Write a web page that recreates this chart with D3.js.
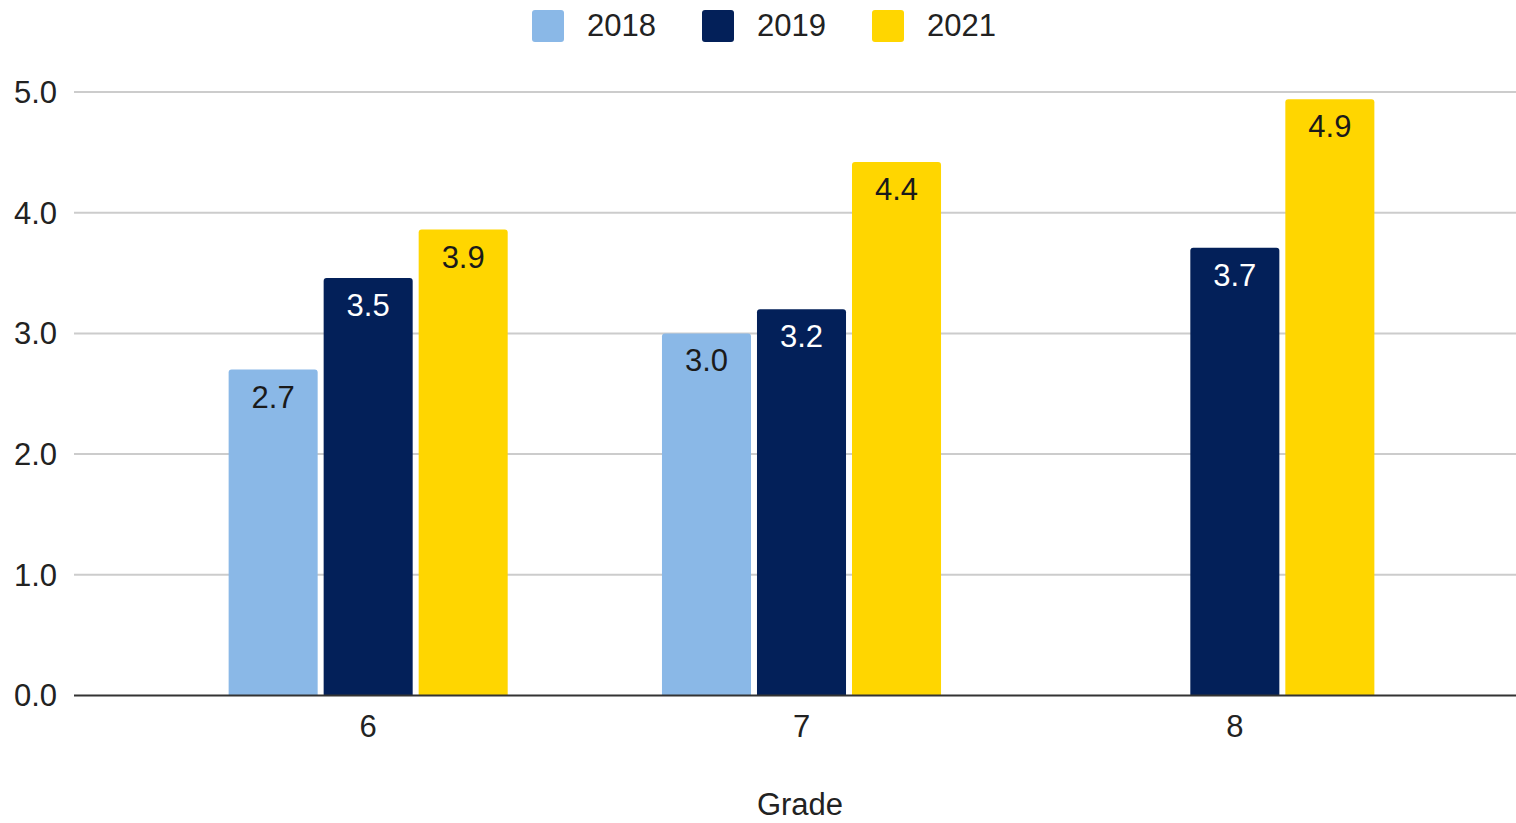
<!DOCTYPE html>
<html>
<head>
<meta charset="utf-8">
<script src="https://cdn.jsdelivr.net/npm/d3@7"></script>
<style>
  body { margin: 0; background: #fff; }
  svg text { font-family: "Liberation Sans", Arial, sans-serif; }
</style>
</head>
<body>
<svg></svg>
<script>
// chart data
var grades = ["6", "7", "8"];
var years = ["2018", "2019", "2021"];
var values2018 = [2.7, 3.0, null];
var values2019 = [3.46, 3.2, 3.71];
var values2021 = [3.86, 4.42, 4.94];
var yTicks = [0, 1, 2, 3, 4, 5];
var colors = ["#8ab8e7", "#032059", "#ffd600"];
var labelColors = ["#1a1a1a", "#ffffff", "#1a1a1a"];

var width = 1516, height = 823;
var fs = 31;
var svg = d3.select("svg").attr("width", width).attr("height", height);

var seriesValues = [values2018, values2019, values2021];

// scales
var y = d3.scaleLinear().domain([0, 5]).range([695.5, 92]);
var x0 = d3.scaleBand().domain(grades).range([151.5, 1451.5])
  .paddingInner(0.356).paddingOuter(0.178);
var x1 = d3.scaleBand().domain(years).range([0, x0.bandwidth()])
  .paddingInner(0.063).paddingOuter(0);

// gridlines
svg.append("g")
  .selectAll("line")
  .data(yTicks.filter(function(d){ return d > 0; }))
  .enter().append("line")
  .attr("x1", 74).attr("x2", width)
  .attr("y1", function(d){ return y(d); })
  .attr("y2", function(d){ return y(d); })
  .attr("stroke", "#cccccc")
  .attr("stroke-width", 2);

// y tick labels
svg.append("g")
  .selectAll("text")
  .data(yTicks)
  .enter().append("text")
  .attr("x", 57)
  .attr("y", function(d){ return y(d); })
  .attr("dy", "0.35em")
  .attr("text-anchor", "end")
  .attr("font-size", fs)
  .attr("fill", "#222")
  .text(function(d){ return d3.format(".1f")(d); });

// bars, flattened into one list
var bars = [];
grades.forEach(function(g, gi){
  years.forEach(function(yr, si){
    var v = seriesValues[si][gi];
    if (v !== null) bars.push({grade: g, year: yr, si: si, value: v});
  });
});

function barPath(d){
  var bx = x0(d.grade) + x1(d.year), bw = x1.bandwidth();
  var top = y(d.value), bottom = y(0), r = 3;
  return "M" + bx + "," + bottom +
    "V" + (top + r) +
    "Q" + bx + "," + top + " " + (bx + r) + "," + top +
    "H" + (bx + bw - r) +
    "Q" + (bx + bw) + "," + top + " " + (bx + bw) + "," + (top + r) +
    "V" + bottom + "Z";
}

svg.append("g")
  .selectAll("path")
  .data(bars)
  .enter().append("path")
  .attr("d", barPath)
  .attr("fill", function(d){ return colors[d.si]; });

// value labels inside bar tops
svg.append("g")
  .selectAll("text")
  .data(bars)
  .enter().append("text")
  .attr("x", function(d){ return x0(d.grade) + x1(d.year) + x1.bandwidth() / 2; })
  .attr("y", function(d){ return y(d.value) + 38; })
  .attr("text-anchor", "middle")
  .attr("font-size", fs)
  .attr("fill", function(d){ return labelColors[d.si]; })
  .text(function(d){ return d3.format(".1f")(d.value); });

// baseline
svg.append("line")
  .attr("x1", 74).attr("x2", width)
  .attr("y1", y(0)).attr("y2", y(0))
  .attr("stroke", "#333")
  .attr("stroke-width", 2);

// x tick labels
svg.append("g")
  .selectAll("text")
  .data(grades)
  .enter().append("text")
  .attr("x", function(d){ return x0(d) + x0.bandwidth() / 2; })
  .attr("y", 737)
  .attr("text-anchor", "middle")
  .attr("font-size", fs)
  .attr("fill", "#222")
  .text(function(d){ return d; });

// axis title
svg.append("text")
  .attr("x", 800)
  .attr("y", 815)
  .attr("text-anchor", "middle")
  .attr("font-size", fs)
  .attr("fill", "#222")
  .text("Grade");

// legend
var legendX = [532, 702, 872];
var legend = svg.append("g")
  .selectAll("g")
  .data(years)
  .enter().append("g")
  .attr("transform", function(d, i){ return "translate(" + legendX[i] + ",10)"; });
legend.append("rect")
  .attr("width", 32).attr("height", 32)
  .attr("rx", 3)
  .attr("fill", function(d, i){ return colors[i]; });
legend.append("text")
  .attr("x", 55)
  .attr("y", 26)
  .attr("font-size", fs)
  .attr("fill", "#222")
  .text(function(d){ return d; });
</script>
</body>
</html>
